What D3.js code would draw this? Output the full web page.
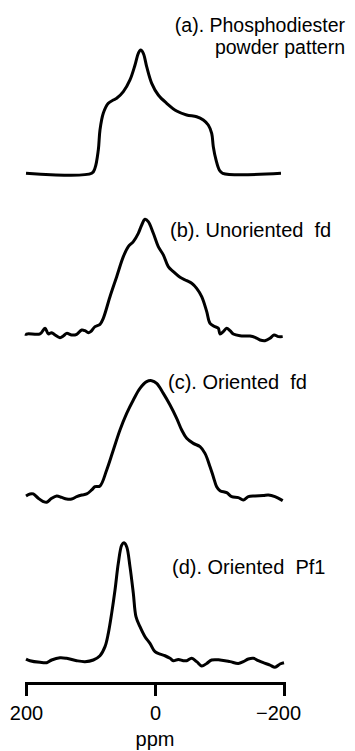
<!DOCTYPE html>
<html>
<head>
<meta charset="utf-8">
<script src="https://cdn.jsdelivr.net/npm/d3@7"></script>
<style>
  body { margin: 0; background: #fff; }
  svg text { font-family: "Liberation Sans", Arial, Helvetica, sans-serif; fill: #000; }
</style>
</head>
<body>
<script>
// spectra: [ppm, normalised intensity]
var powderPattern = [
  [200, 0], [98.1, 0], [93, 0.043], [87.9, 0.189], [85.3, 0.351], [80.2, 0.487],
  [72.4, 0.568], [64.6, 0.594], [59.4, 0.608], [49.1, 0.662], [38.8, 0.757],
  [31, 0.878], [25.9, 0.973], [22.2, 1.0], [18.1, 0.973], [12.9, 0.865],
  [5.1, 0.73], [-5.1, 0.635], [-18.1, 0.568], [-33.6, 0.505], [-49.1, 0.473],
  [-64.6, 0.459], [-74.9, 0.432], [-82.6, 0.392], [-87.9, 0.324], [-90.4, 0.216],
  [-94.6, 0.108], [-99.7, 0.027], [-105, 0], [-195.3, 0]
];

var unorientedFd = [
  [200, -0.006], [199, 0.009], [178.3, 0.009], [170.5, 0.058], [165.4, 0.009],
  [160.2, 0.02], [155, 0], [147.3, -0.023], [142.2, -0.009], [136.9, 0.014],
  [129.2, 0], [121.4, 0.006], [113.6, 0.043], [108.5, 0.037], [103.4, 0.02],
  [99.7, 0.029], [93, 0.072], [85.3, 0.092], [80.2, 0.144], [69.8, 0.331],
  [59.4, 0.504], [49.1, 0.677], [41.4, 0.764], [33.6, 0.807], [25.9, 0.879],
  [20.6, 0.951], [15.5, 1.0], [10.4, 0.98], [2.6, 0.879], [-5.1, 0.764],
  [-12.9, 0.692], [-20.6, 0.591], [-28.4, 0.548], [-38.8, 0.499], [-49.1, 0.47],
  [-56.9, 0.447], [-64.6, 0.403], [-72.4, 0.331], [-80.2, 0.202], [-85.3, 0.101],
  [-93, 0.072], [-98.2, 0.058], [-100.8, 0.009], [-105.9, 0.029], [-111.1, 0.058],
  [-116.3, 0.037], [-121.4, 0.009], [-131.8, -0.006], [-147.3, -0.009],
  [-155, -0.02], [-162.8, -0.043], [-170.5, -0.049], [-178.3, -0.029],
  [-184.5, 0], [-191.2, -0.014], [-198, -0.014]
];

var orientedFd = [
  [200, 0.02], [193.8, 0.037], [188.7, 0.037], [180.9, 0], [173.2, -0.028],
  [167.9, -0.034], [160.2, 0], [152.4, 0.02], [144.7, 0.008], [136.9, -0.006],
  [129.2, -0.006], [121.4, 0.014], [113.6, 0.028], [105.9, 0.037], [98.1, 0.071],
  [93, 0.099], [85.3, 0.105], [74.9, 0.241], [64.6, 0.411], [54.3, 0.581],
  [43.9, 0.722], [33.6, 0.836], [23.3, 0.935], [12.9, 0.992], [5.1, 1.0],
  [-2.6, 0.977], [-12.9, 0.892], [-23.3, 0.793], [-33.6, 0.68], [-41.4, 0.581],
  [-49.1, 0.51], [-59.4, 0.467], [-69.8, 0.439], [-77.5, 0.382], [-85.3, 0.269],
  [-90.4, 0.184], [-95.6, 0.099], [-100.8, 0.065], [-111.1, 0.048],
  [-118.9, 0.014], [-129.2, 0.006], [-136.9, -0.014], [-144.7, 0.014],
  [-155, 0.02], [-167.9, 0.023], [-175.7, 0.028], [-186, 0.014], [-198, -0.02]
];

var orientedPf1 = [
  [200, 0.014], [193.8, 0], [178.3, -0.014], [167.9, -0.017], [160.2, 0.006],
  [147.3, 0.025], [136.9, 0.02], [121.4, 0], [108.5, -0.008], [95.6, 0.006],
  [85.3, 0.042], [77.5, 0.119], [72.4, 0.232], [67.2, 0.401], [62, 0.599],
  [56.9, 0.825], [51.6, 0.98], [48.1, 1.0], [43.9, 0.966], [38.8, 0.797],
  [33.6, 0.571], [29.5, 0.373], [23.3, 0.288], [15.5, 0.203], [7.8, 0.147],
  [0, 0.076], [-7.8, 0.056], [-15.5, 0.042], [-23.3, 0.02], [-28.4, 0],
  [-36.2, 0.011], [-43.9, 0], [-49.1, 0], [-56.9, 0.02], [-64.6, -0.008],
  [-72.4, -0.045], [-80.2, -0.023], [-87.9, 0.006], [-100.8, 0.006],
  [-116.3, -0.008], [-129.2, -0.023], [-136.9, -0.008], [-144.7, 0.014],
  [-152.4, 0.02], [-160.2, 0], [-167.9, -0.017], [-178.3, -0.037],
  [-186, -0.056], [-193.8, -0.028], [-200, -0.017]
];

var ppmTicks = [200, 0, -200];
var axisTitle = "ppm";

var panels = [
  { data: powderPattern, label: ["(a). Phosphodiester", "powder pattern"], base: 173.3, peak: 50 },
  { data: unorientedFd, label: ["(b). Unoriented\u00a0 fd"], base: 335, peak: 219.3 },
  { data: orientedFd, label: ["(c). Oriented\u00a0 fd"], base: 498.3, peak: 380.7 },
  { data: orientedPf1, label: ["(d). Oriented\u00a0 Pf1"], base: 660.7, peak: 542.7 }
];

var width = 355, height = 751;

var svg = d3.select("body")
            .append("svg")
            .attr("width", width)
            .attr("height", height);

// reversed ppm axis, as usual for NMR
var xScale = d3.scaleLinear()
               .domain([200, -200])
               .range([26, 284]);

var line = d3.line()
             .x(function(d) { return xScale(d[0]); })
             .curve(d3.curveCatmullRom.alpha(0.5));

panels.forEach(function(p, i) {
    var yScale = d3.scaleLinear()
                   .domain([0, 1])
                   .range([p.base, p.peak]);

    line.y(function(d) { return yScale(d[1]); });

    svg.append("path")
       .datum(p.data)
       .attr("d", line)
       .attr("fill", "none")
       .attr("stroke", "#000")
       .attr("stroke-width", 3)
       .attr("stroke-linejoin", "round");
});

// panel labels
var lab = svg.append("g").attr("font-size", "20px");

// (a) is two right-aligned lines, set a bit apart so they don't collide
lab.selectAll("text.labA")
   .data(panels[0].label)
   .enter()
   .append("text")
   .attr("class", "labA")
   .attr("x", 345)
   .attr("y", function(d, i) { return i == 0 ? 31.5 : 54; })
   .attr("font-size", "19.5px")
   .attr("text-anchor", "end")
   .text(function(d) { return d; });

var labelPos = [null, [170, 237], [168, 389], [172, 574]];
for (var i = 1; i < panels.length; i++) {
    lab.append("text")
       .attr("x", labelPos[i][0])
       .attr("y", labelPos[i][1])
       .text(panels[i].label[0]);
}

// ppm axis
var xAxis = d3.axisBottom(xScale)
              .tickValues(ppmTicks)
              .tickSize(13)
              .tickSizeOuter(13)
              .tickPadding(10)
              .tickFormat(function(d) { return d < 0 ? "\u2212" + Math.abs(d) : d; });

var gx = svg.append("g")
            .attr("transform", "translate(0,683)")
            .call(xAxis);

gx.select(".domain")
  .attr("stroke-width", 3)
  .attr("stroke", "#000");
gx.selectAll(".tick line")
  .attr("stroke-width", 3)
  .attr("stroke", "#000");
gx.selectAll(".tick text")
  .attr("font-size", "20px")
  .attr("font-family", "Liberation Sans, Arial, Helvetica, sans-serif")
  .attr("fill", "#000")
  .attr("dx", function(d) { return d < 0 ? "-0.3em" : 0; });

svg.append("text")
   .attr("x", 155)
   .attr("y", 746)
   .attr("text-anchor", "middle")
   .attr("font-size", "20px")
   .text(axisTitle);
</script>
</body>
</html>
